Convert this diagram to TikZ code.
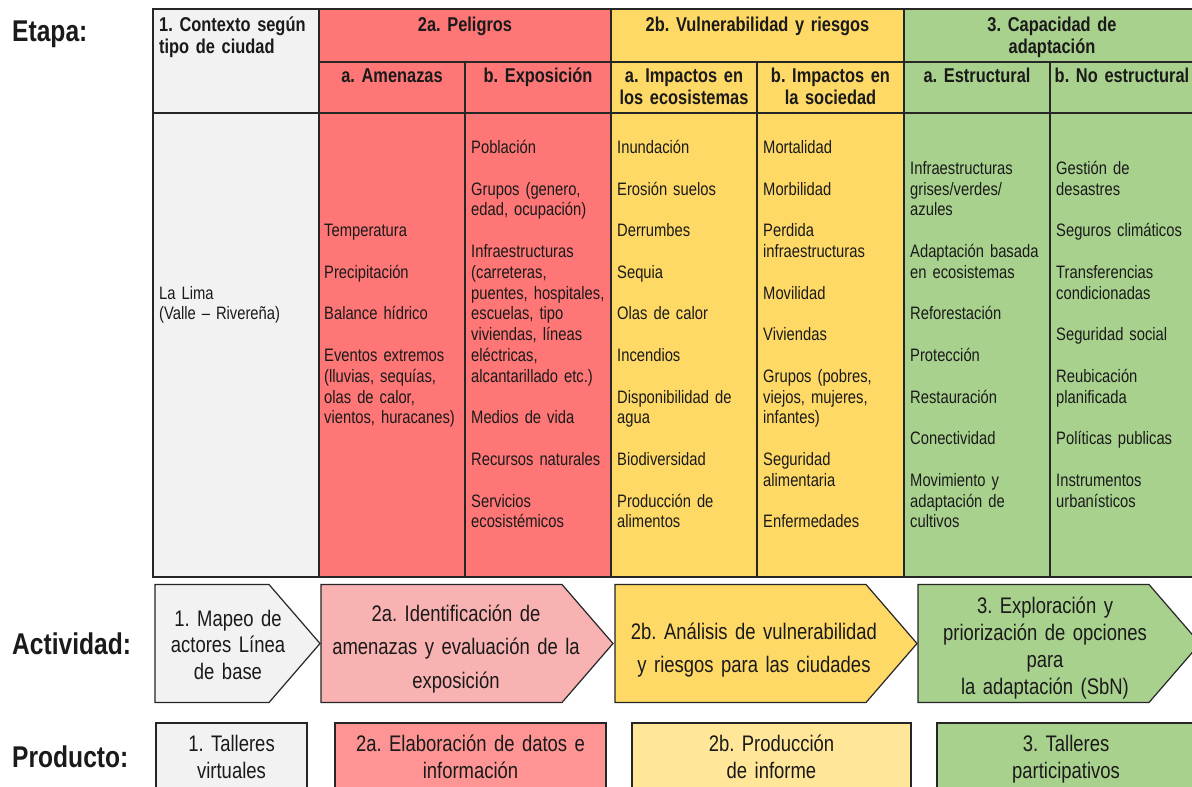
\documentclass[tikz,border=0pt]{standalone}
\usepackage{fontspec}
\setmainfont{Liberation Sans}[FakeStretch=0.82]
\frenchspacing
\definecolor{cgray}{HTML}{F2F2F2}
\definecolor{cred}{HTML}{FE7676}
\definecolor{cyel}{HTML}{FFD966}
\definecolor{cgrn}{HTML}{A9D18E}
\definecolor{cpink}{HTML}{F9B2B2}
\definecolor{cred2}{HTML}{FF9494}
\definecolor{cyel2}{HTML}{FFE699}
\definecolor{lc}{HTML}{262626}
\definecolor{tc}{HTML}{1A1A1A}
\tikzset{
  tabline/.style={draw=lc, line width=1.4pt},
  hdrtxt/.style={font=\fontsize{20}{22.5}\selectfont\bfseries, text=tc, align=center, anchor=base, inner sep=0pt},
  bodytxt/.style={font=\fontsize{18}{20.8}\selectfont, text=tc, align=left, text width=142pt, anchor=base west, inner sep=0pt},
  lbltxt/.style={font=\fontsize{30}{33}\selectfont\bfseries, text=tc, anchor=base west, inner sep=0pt},
  arrshape/.style={draw=lc, line width=1.2pt, line join=miter},
  arrtxt/.style={font=\fontsize{22.5}{27}\selectfont, text=tc, align=center, anchor=base, inner sep=0pt},
  prodbox/.style={draw=lc, line width=1.2pt},
  prodtxt/.style={font=\fontsize{22.5}{27}\selectfont, text=tc, align=center, anchor=base, inner sep=0pt}
}
\newcommand{\isep}{\\[20.8pt]}
\begin{document}
\begin{tikzpicture}[x=1pt,y=-1pt]
\useasboundingbox (0,0) rectangle (1192,787);
\fill[white] (0,0) rectangle (1192,787);
\clip (0,0) rectangle (1192,787);

% labels
\node[lbltxt] (lEtapa) at (12,41) {Etapa:};
\node[lbltxt] (lAct) at (12,654) {Actividad:};
\node[lbltxt] (lProd) at (12,767) {Producto:};

% table fills
\fill[cgray] (153,9) rectangle (319,577);
\fill[cred] (319,9) rectangle (611,577);
\fill[cyel] (611,9) rectangle (904,577);
\fill[cgrn] (904,9) rectangle (1200,577);
% table lines
\draw[tabline] (153,9) rectangle (1200,577);
\draw[tabline] (319,62) -- (1200,62);
\draw[tabline] (153,113) -- (1200,113);
\foreach \x in {319,611,904} \draw[tabline] (\x,9) -- (\x,577);
\foreach \x in {465,757,1050} \draw[tabline] (\x,62) -- (\x,577);

% header row 1
\node[hdrtxt, align=left, anchor=base west, text width=158pt] (h1) at (159,31) {1. Contexto según\\tipo de ciudad};
\node[hdrtxt, text width=280pt] (h2a) at (465,31) {2a. Peligros};
\node[hdrtxt, text width=280pt] (h2b) at (757.5,31) {2b. Vulnerabilidad y riesgos};
\node[hdrtxt, text width=280pt] (h3) at (1052,31) {3. Capacidad de\\adaptación};
% header row 2
\node[hdrtxt, text width=140pt] (s2aa) at (392,82) {a. Amenazas};
\node[hdrtxt, text width=140pt] (s2ab) at (538,82) {b. Exposición};
\node[hdrtxt, text width=140pt] (s2ba) at (684,82) {a. Impactos en\\los ecosistemas};
\node[hdrtxt, text width=140pt] (s2bb) at (830.5,82) {b. Impactos en\\la sociedad};
\node[hdrtxt, text width=140pt] (s3a) at (977,82) {a. Estructural};
\node[hdrtxt, text width=140pt] (s3b) at (1122,82) {b. No estructural};

% body
\node[bodytxt] (b1) at (159,299.1) {La Lima\\(Valle -- Rivereña)};
\node[bodytxt] (b2) at (324,236.7) {Temperatura\isep Precipitación\isep Balance hídrico\isep Eventos extremos\\(lluvias, sequías,\\olas de calor,\\vientos, huracanes)};
\node[bodytxt] (b3) at (471,153.5) {Población\isep Grupos (genero,\\edad, ocupación)\isep Infraestructuras\\(carreteras,\\puentes, hospitales,\\escuelas, tipo\\viviendas, líneas\\eléctricas,\\alcantarillado etc.)\isep Medios de vida\isep Recursos naturales\isep Servicios\\ecosistémicos};
\node[bodytxt] (b4) at (617,153.5) {Inundación\isep Erosión suelos\isep Derrumbes\isep Sequia\isep Olas de calor\isep Incendios\isep Disponibilidad de\\agua\isep Biodiversidad\isep Producción de\\alimentos};
\node[bodytxt] (b5) at (763,153.5) {Mortalidad\isep Morbilidad\isep Perdida\\infraestructuras\isep Movilidad\isep Viviendas\isep Grupos (pobres,\\viejos, mujeres,\\infantes)\isep Seguridad\\alimentaria\isep Enfermedades};
\node[bodytxt] (b6) at (910,174.3) {Infraestructuras\\grises/verdes/\\azules\isep Adaptación basada\\en ecosistemas\isep Reforestación\isep Protección\isep Restauración\isep Conectividad\isep Movimiento y\\adaptación de\\cultivos};
\node[bodytxt] (b7) at (1056,174.3) {Gestión de\\desastres\isep Seguros climáticos\isep Transferencias\\condicionadas\isep Seguridad social\isep Reubicación\\planificada\isep Políticas publicas\isep Instrumentos\\urbanísticos};

% activity arrows
\draw[arrshape, fill=cgray] (155,584.5) -- (269,584.5) -- (320,643.5) -- (269,702.5) -- (155,702.5) -- cycle;
\draw[arrshape, fill=cpink] (321,584.5) -- (562,584.5) -- (613,643.5) -- (562,702.5) -- (321,702.5) -- cycle;
\draw[arrshape, fill=cyel] (615,584.5) -- (866,584.5) -- (917,643.5) -- (866,702.5) -- (615,702.5) -- cycle;
\draw[arrshape, fill=cgrn] (918,584.5) -- (1149,584.5) -- (1200,643.5) -- (1149,702.5) -- (918,702.5) -- cycle;
\node[arrtxt, text width=130pt, font=\fontsize{22.5}{26.5}\selectfont] (a1) at (228,626) {1. Mapeo de\\actores Línea\\de base};
\node[arrtxt, text width=280pt, font=\fontsize{22.5}{33.5}\selectfont] (a2) at (456,621) {2a. Identificación de\\amenazas y evaluación de la\\exposición};
\node[arrtxt, text width=280pt, font=\fontsize{22.5}{33}\selectfont] (a3) at (754,639) {2b. Análisis de vulnerabilidad\\y riesgos para las ciudades};
\node[arrtxt, text width=260pt] (a4) at (1045,613) {3. Exploración y\\priorización de opciones\\para\\la adaptación (SbN)};

% product boxes
\draw[prodbox, fill=cgray] (156,723) rectangle (307,800);
\draw[prodbox, fill=cred2] (335,723) rectangle (606,800);
\draw[prodbox, fill=cyel2] (632,723) rectangle (911,800);
\draw[prodbox, fill=cgrn] (937,723) rectangle (1196,800);
\node[prodtxt, text width=150pt] (p1) at (231.5,751) {1. Talleres\\virtuales};
\node[prodtxt, text width=270pt] (p2) at (470.5,751) {2a. Elaboración de datos e\\información};
\node[prodtxt, text width=270pt] (p3) at (771.5,751) {2b. Producción\\de informe};
\node[prodtxt, text width=250pt] (p4) at (1066,751) {3. Talleres\\participativos};
\end{tikzpicture}
\end{document}
